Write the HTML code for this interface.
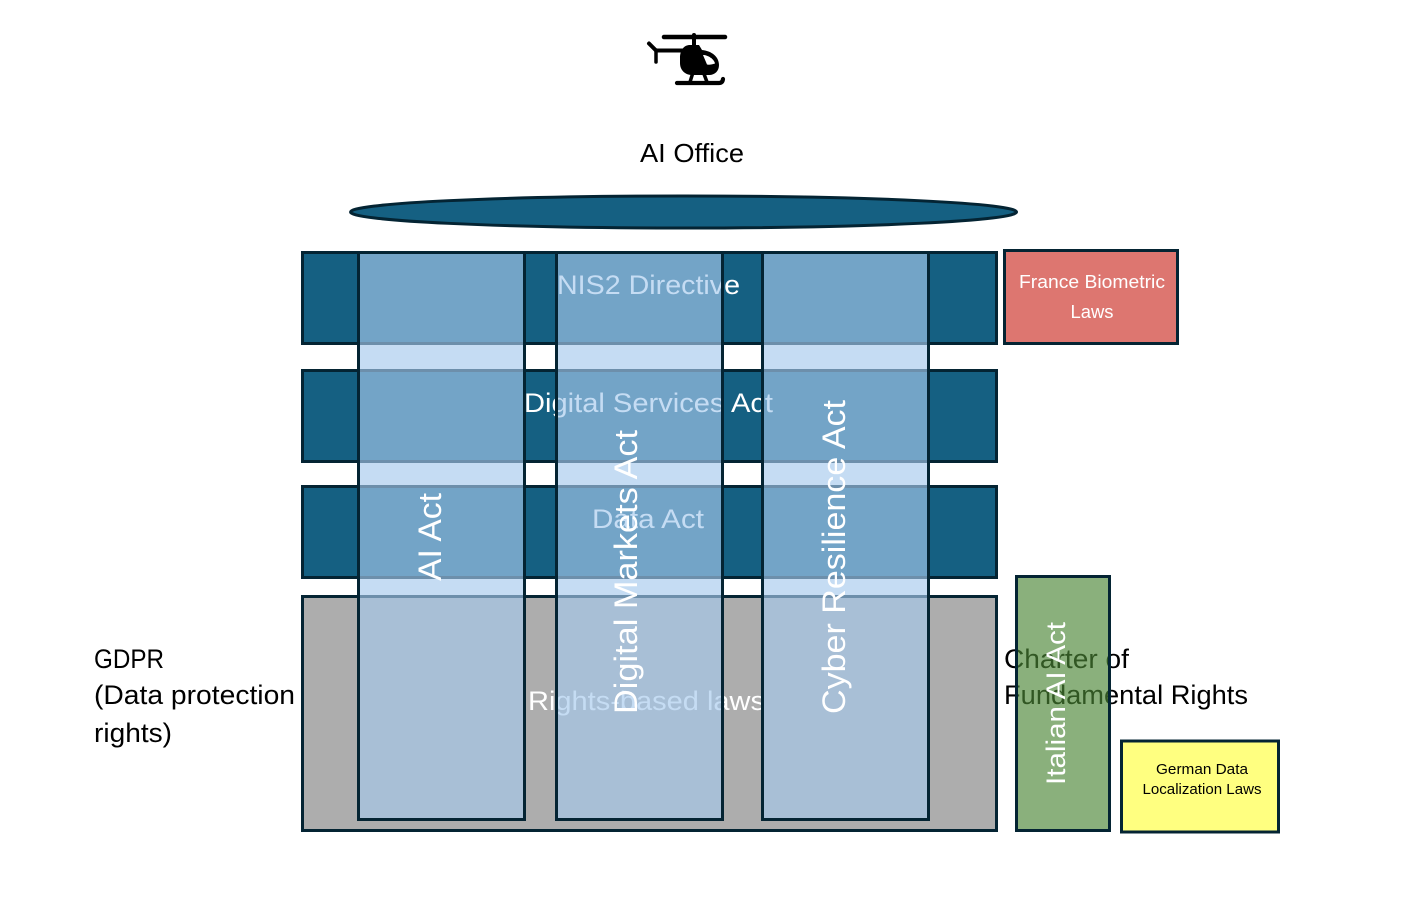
<!DOCTYPE html>
<html>
<head>
<meta charset="utf-8">
<style>
html,body{margin:0;padding:0;background:#fff;width:1420px;height:902px;overflow:hidden}
svg{display:block}
text{font-family:"Liberation Sans",sans-serif}
</style>
</head>
<body>
<svg width="1420" height="902" viewBox="0 0 1420 902" xmlns="http://www.w3.org/2000/svg">
<rect width="1420" height="902" fill="#fff"/>

<!-- helicopter -->
<g fill="none" stroke="#000" stroke-linecap="round" stroke-linejoin="round">
<path d="M664 37H725" stroke-width="4.500"/>
<path d="M694 35V48" stroke-width="4"/>
<path d="M649 43.500L656 50.500H684" stroke-width="4"/>
<path d="M656 50V62" stroke-width="3.500"/>
<path d="M677 83H719Q722.500 83 723 79" stroke-width="4.200"/>
<path d="M692.500 74L690 82M704 74L707 82" stroke-width="3.500"/>
</g>
<path d="M680 58C680 50 684 45 690 45H699L702 50C712 51 719 57 719 65C719 71 715 75 709 75H692C685 75 680 70 680 63Z" fill="#000"/>
<path d="M703 55C708 55 714 59 715 63.500C712 64.500 709 65 707 64.500Z" fill="#fff"/>

<text x="640" y="162" font-size="26" fill="#000" textLength="104" lengthAdjust="spacingAndGlyphs">AI Office</text>

<ellipse cx="683.500" cy="212" rx="333" ry="16" fill="#156082" stroke="#042433" stroke-width="3"/>

<!-- rows -->
<g fill="#156082" stroke="#042433" stroke-width="3">
<rect x="302.500" y="252.500" width="694" height="91"/>
<rect x="302.500" y="370.500" width="694" height="91"/>
<rect x="302.500" y="486.500" width="694" height="91"/>
<rect x="302.500" y="596.500" width="694" height="234" fill="#adadad"/>
</g>
<g fill="#fff" font-size="27">
<text x="557" y="294" textLength="183" lengthAdjust="spacingAndGlyphs">NIS2 Directive</text>
<text x="524" y="412" textLength="249" lengthAdjust="spacingAndGlyphs">Digital Services Act</text>
<text x="592" y="528" textLength="112" lengthAdjust="spacingAndGlyphs">Data Act</text>
<text x="528" y="710" textLength="237" lengthAdjust="spacingAndGlyphs">Rights-based laws</text>
</g>

<!-- columns -->
<g fill="#a6caec" fill-opacity=".65" stroke="#042433" stroke-width="3">
<rect x="358.500" y="252.500" width="166" height="567"/>
<rect x="556.500" y="252.500" width="166" height="567"/>
<rect x="762.500" y="252.500" width="166" height="567"/>
</g>
<g fill="#fff" font-size="32">
<text transform="translate(441,581) rotate(-90)" textLength="88" lengthAdjust="spacingAndGlyphs">AI Act</text>
<text transform="translate(637,714) rotate(-90)" textLength="284" lengthAdjust="spacingAndGlyphs">Digital Markets Act</text>
<text transform="translate(845,714) rotate(-90)" textLength="314" lengthAdjust="spacingAndGlyphs">Cyber Resilience Act</text>
</g>

<!-- side labels -->
<g fill="#000" font-size="27">
<text x="94" y="668" textLength="70" lengthAdjust="spacingAndGlyphs">GDPR</text>
<text x="94" y="704" textLength="201" lengthAdjust="spacingAndGlyphs">(Data protection</text>
<text x="94" y="742" textLength="78" lengthAdjust="spacingAndGlyphs">rights)</text>
<text x="1004" y="668" textLength="125" lengthAdjust="spacingAndGlyphs">Charter of</text>
<text x="1004" y="704" textLength="244" lengthAdjust="spacingAndGlyphs">Fundamental Rights</text>
</g>

<!-- France -->
<rect x="1004.500" y="250.500" width="173" height="93" fill="#dd7670" stroke="#042433" stroke-width="3"/>
<g fill="#fff" font-size="18" text-anchor="middle">
<text x="1092" y="288" textLength="146" lengthAdjust="spacingAndGlyphs">France Biometric</text>
<text x="1092" y="318" textLength="43" lengthAdjust="spacingAndGlyphs">Laws</text>
</g>

<!-- Italian -->
<rect x="1016.500" y="576.500" width="93" height="254" fill="#4b8536" fill-opacity=".65" stroke="#042433" stroke-width="3"/>
<text transform="translate(1065,785) rotate(-90)" font-size="27" fill="#fff" textLength="163" lengthAdjust="spacingAndGlyphs">Italian AI Act</text>

<!-- German -->
<rect x="1121.500" y="741" width="157" height="91" fill="#ffff80" stroke="#042433" stroke-width="3"/>
<g fill="#000" font-size="15" text-anchor="middle">
<text x="1202" y="774" textLength="92" lengthAdjust="spacingAndGlyphs">German Data</text>
<text x="1202" y="794" textLength="119" lengthAdjust="spacingAndGlyphs">Localization Laws</text>
</g>
</svg>
</body>
</html>
